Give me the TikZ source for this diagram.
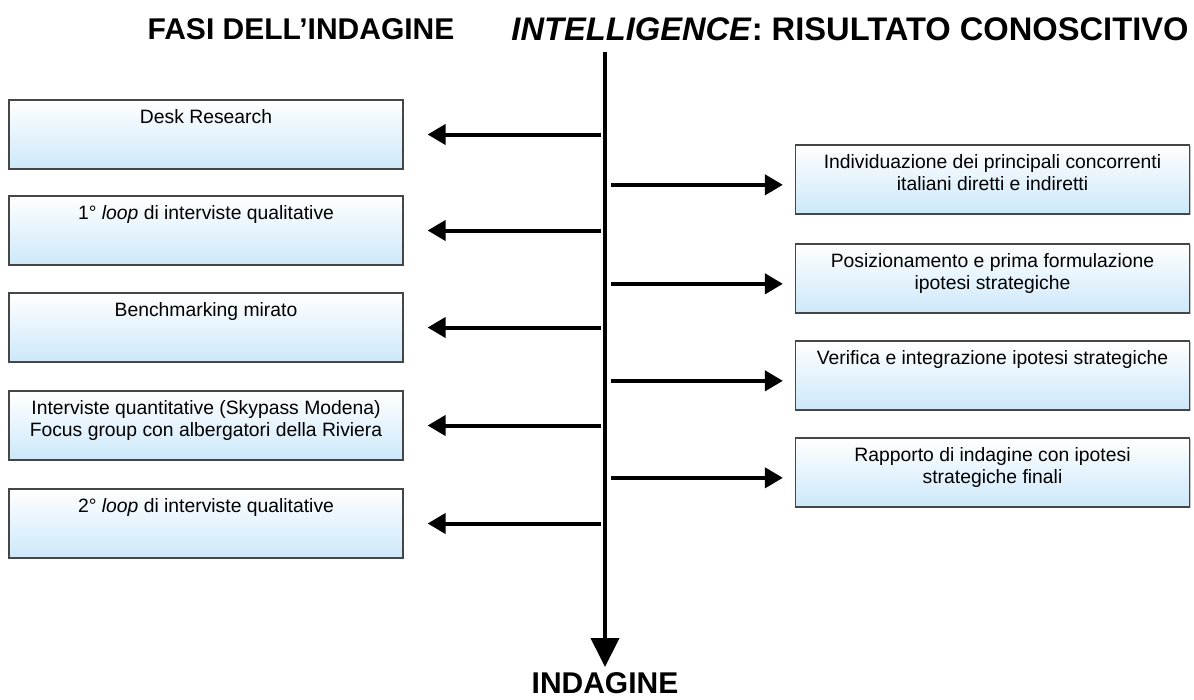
\documentclass[tikz,border=0pt]{standalone}
\usepackage{fontspec}
\setmainfont{Liberation Sans}
\usetikzlibrary{arrows.meta,shadows}
\definecolor{boxblu}{RGB}{204,232,250}
\definecolor{bordo}{RGB}{70,70,70}
\tikzset{
  fase/.style={draw=bordo, line width=0.9pt, top color=white, bottom color=boxblu,
    minimum width=295.5pt, minimum height=51.75pt, inner sep=0pt,
    drop shadow={shadow xshift=0.8pt, shadow yshift=-0.8pt, fill=black!45}},
  testo/.style={anchor=north, inner sep=0pt, yshift=-7.5pt, align=center,
    font=\fontsize{14.5}{16.5}\selectfont},
  titolo/.style={font=\fontsize{22.5}{26}\selectfont\bfseries},
  freccia/.style={line width=3pt, -{Triangle[length=13.5pt,width=15pt]}},
  asse/.style={line width=3pt, -{Triangle[length=21.75pt,width=21pt]}}
}
\begin{document}
\begin{tikzpicture}[x=0.75pt,y=-0.75pt]
    \useasboundingbox (0,0) rectangle (1194,699);
    % titoli
    \node[titolo] (fasi) at (301,29) {FASI DELL'INDAGINE};
    \node[titolo, font=\fontsize{24.5}{28}\selectfont\bfseries] (intel) at (850,29) {\textit{INTELLIGENCE}: RISULTATO CONOSCITIVO};
    \node[titolo] (indagine) at (605,683) {INDAGINE};
    % asse dell'indagine
    \coordinate (cima) at (605,52);
    \coordinate (fondo) at (605,667);
    \draw[asse] (cima) -- (fondo);
    % fasi
    \node[fase, label={[testo]north:{Desk Research}}] (desk) at (206,134.5) {};
    \node[fase, label={[testo]north:{1° \textit{loop} di interviste qualitative}}] (loop1) at (206,230.5) {};
    \node[fase, label={[testo]north:{Benchmarking mirato}}] (bench) at (206,327.5) {};
    \node[fase, label={[testo]north:{Interviste quantitative (Skypass Modena)\\Focus group con albergatori della Riviera}}] (quant) at (206,425.5) {};
    \node[fase, label={[testo]north:{2° \textit{loop} di interviste qualitative}}] (loop2) at (206,523.5) {};
    % risultati
    \node[fase, label={[testo]north:{Individuazione dei principali concorrenti\\italiani diretti e indiretti}}] (concorrenti) at (992.5,179.5) {};
    \node[fase, label={[testo]north:{Posizionamento e prima formulazione\\ipotesi strategiche}}] (posiz) at (992.5,278.5) {};
    \node[fase, label={[testo]north:{Verifica e integrazione ipotesi strategiche}}] (verifica) at (992.5,375.5) {};
    \node[fase, label={[testo]north:{Rapporto di indagine con ipotesi\\strategiche finali}}] (rapporto) at (992.5,472.5) {};
    % frecce
    \foreach \f in {desk,loop1,bench,quant,loop2}
      \draw[freccia] (\f.east -| cima) ++(-4,0) -- ([xshift=18pt]\f.east);
    \foreach \r in {concorrenti,posiz,verifica,rapporto}
      \draw[freccia] ([yshift=-4pt]\r.west -| cima) ++(6,0) -- ([xshift=-9pt,yshift=-4pt]\r.west);
  \end{tikzpicture}
\end{document}
